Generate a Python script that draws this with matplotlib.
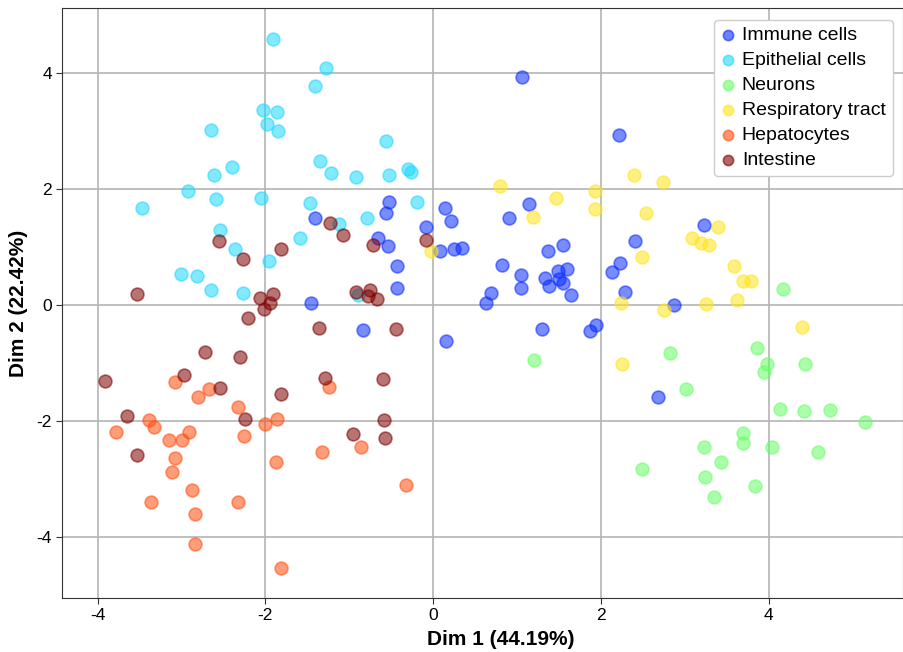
import matplotlib
matplotlib.use("Agg")
import matplotlib.pyplot as plt

plt.rcParams['font.family'] = ['Liberation Sans', 'DejaVu Sans']
plt.rcParams['axes.unicode_minus'] = False

groups = ["Immune cells", "Epithelial cells", "Neurons", "Respiratory tract", "Hepatocytes", "Intestine"]
colors = ["#0a2dff", "#1ed8ff", "#66ff66", "#ffe41a", "#ff4d0d", "#7f0000"]

immune_x = [1.056, 2.21, -0.524, 0.143, 1.147, -0.568, 0.214, 0.90, -0.087, -0.655, -0.54, 0.083,
            0.25, 0.345, -0.433, 0.825, 1.044, 1.048, 1.365, 1.552, 1.33, 1.385, 1.484, 1.59,
            1.496, 1.552, 1.647, 0.694, 0.623, -0.433, -0.833, 0.155, 1.294, 1.869, 1.944,
            2.29, 2.131, 2.226, 2.40, 3.222, 2.865, 2.683, -1.405, -1.456]
immune_y = [3.937, 2.93, 1.78, 1.68, 1.74, 1.59, 1.454, 1.51, 1.345, 1.167, 1.029, 0.931,
            0.97, 0.983, 0.678, 0.70, 0.517, 0.305, 0.937, 1.046, 0.471, 0.34, 0.598, 0.621,
            0.448, 0.39, 0.172, 0.218, 0.04, 0.305, -0.425, -0.609, -0.414, -0.448, -0.34,
            0.236, 0.569, 0.724, 1.103, 1.379, 0.0, -1.58, 1.505, 0.034]

epithelial_x = [-1.908, -1.277, -1.413, -2.03, -1.865, -1.98, -1.85, -2.65, -2.40, -2.61, -1.345,
                -1.22, -0.925, -2.917, -2.587, -2.05, -3.47, -1.464, -2.536, -2.365, -1.583,
                -1.952, -3.008, -2.82, -2.65, -2.266, -1.127, -0.897, -0.568, -0.524, -0.298,
                -0.266, -0.19, -0.794]
epithelial_y = [4.60, 4.09, 3.776, 3.36, 3.33, 3.12, 3.0, 3.03, 2.385, 2.25, 2.49,
                2.276, 2.22, 1.966, 1.83, 1.856, 1.68, 1.76, 1.305, 0.966, 1.16,
                0.759, 0.54, 0.51, 0.27, 0.207, 1.40, 0.178, 2.828, 2.24, 2.35,
                2.30, 1.78, 1.505]

neurons_x = [1.206, 4.17, 3.857, 3.98, 3.948, 4.433, 2.818, 3.016, 4.127, 4.413, 4.726, 5.143,
             3.694, 3.69, 4.04, 3.222, 4.59, 3.433, 2.488, 3.242, 3.83, 3.341]
neurons_y = [-0.937, 0.287, -0.73, -1.017, -1.144, -1.012, -0.833, -1.454, -1.793, -1.828, -1.81, -2.023,
             -2.20, -2.38, -2.448, -2.454, -2.534, -2.707, -2.833, -2.96, -3.126, -3.305]

resp_x = [0.80, 1.464, 1.925, 1.925, 1.187, 2.39, 2.734, 2.536, 3.389, 3.083, 3.186, 3.282,
          2.488, 3.583, 3.69, 3.79, 2.238, 2.746, 3.25, 3.615, 4.40, 2.25, -0.028]
resp_y = [2.05, 1.85, 1.97, 1.667, 1.52, 2.24, 2.13, 1.59, 1.345, 1.167, 1.075, 1.04,
          0.84, 0.684, 0.42, 0.414, 0.04, -0.075, 0.023, 0.097, -0.38, -1.01, 0.943]

hep_x = [-3.083, -2.675, -2.805, -1.242, -2.33, -3.393, -3.325, -2.004, -1.861, -3.78, -3.15,
         -2.99, -2.91, -2.258, -3.075, -3.115, -1.869, -2.873, -3.365, -2.321, -2.837, -2.841,
         -1.81, -1.33, -0.857, -0.33]
hep_y = [-1.33, -1.44, -1.59, -1.408, -1.753, -1.977, -2.097, -2.046, -1.966, -2.195, -2.32,
         -2.328, -2.195, -2.25, -2.638, -2.88, -2.713, -3.19, -3.397, -3.39, -3.61, -4.126,
         -4.53, -2.534, -2.44, -3.10]

int_x = [-1.234, -1.071, -2.556, -2.27, -1.82, -3.53, -2.068, -1.909, -1.94, -2.02, -2.206,
         -1.361, -0.92, -2.726, -2.298, -3.91, -2.976, -2.544, -1.82, -1.286, -3.655, -2.246,
         -3.53, -0.96, -0.603, -0.59, -0.58, -0.722, -0.083, -0.75, -0.782, -0.667, -0.444]
int_y = [1.41, 1.207, 1.109, 0.805, 0.97, 0.20, 0.133, 0.19, 0.04, -0.069, -0.213,
         -0.385, 0.224, -0.81, -0.902, -1.31, -1.20, -1.42, -1.535, -1.26, -1.908, -1.97,
         -2.586, -2.23, -1.273, -1.98, -2.29, 1.034, 1.126, 0.27, 0.16, 0.103, -0.408]

series = [(immune_x, immune_y), (epithelial_x, epithelial_y), (neurons_x, neurons_y),
          (resp_x, resp_y), (hep_x, hep_y), (int_x, int_y)]

fig = plt.figure(figsize=(9.04, 6.52), dpi=100)
ax = fig.add_axes([0.069, 0.083, 0.93, 0.904])

for (xs, ys), name, c in zip(series, groups, colors):
    ax.scatter(xs, ys, s=85, color=c, alpha=0.55, edgecolors=c, linewidths=1.2,
               label=name, zorder=3)

ax.set_xlim(-4.42, 5.6)
ax.set_ylim(-5.05, 5.12)
ax.set_xticks([-4, -2, 0, 2, 4])
ax.set_yticks([-4, -2, 0, 2, 4])
ax.grid(True, color='#b4b4b4', linewidth=1.2, zorder=0)
ax.tick_params(labelsize=12.5, length=4, color='#333333')
for sp in ax.spines.values():
    sp.set_color('#333333')

ax.set_xlabel('Dim 1 (44.19%)', fontsize=15, fontweight='bold')
ax.set_ylabel('Dim 2 (22.42%)', fontsize=15, fontweight='bold', labelpad=6)
ax.xaxis.set_label_coords(0.522, -0.055)

leg = ax.legend(loc='upper right', fontsize=14, handletextpad=0.3, handlelength=0.8,
                borderaxespad=0.5, labelspacing=0.38, borderpad=0.35, framealpha=1,
                edgecolor='#cccccc', markerscale=0.8, bbox_to_anchor=(0.999, 0.997))
for h in leg.legend_handles:
    h.set_alpha(0.6)

fig.savefig('out.png', dpi=100)
